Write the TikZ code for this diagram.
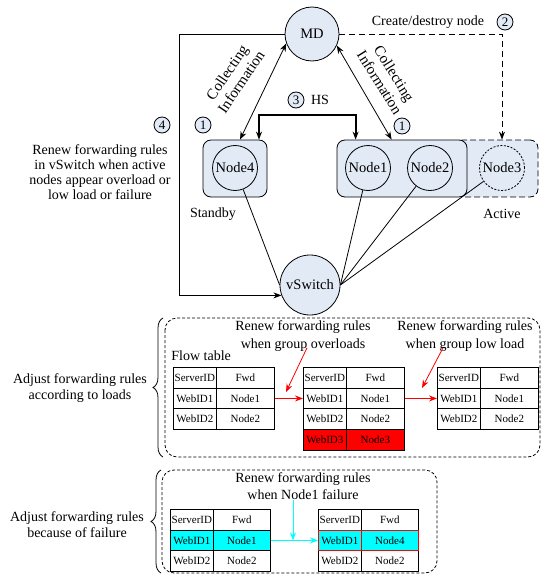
\documentclass[tikz,border=0pt]{standalone}
\usepackage{fontspec}
\setmainfont{Liberation Serif}
\usetikzlibrary{arrows.meta}
\usetikzlibrary{decorations.pathreplacing}
\definecolor{paleblue}{RGB}{226,234,246}
\definecolor{aqua}{RGB}{0,255,255}
\definecolor{hotred}{RGB}{255,0,0}
\tikzset{big/.style = {font=\fontsize{14}{15.5}\selectfont, align=center, inner sep=0}}
\tikzset{circ/.style = {circle, draw, fill=paleblue, inner sep=0, font=\fontsize{14.5}{16}\selectfont}}
\tikzset{num/.style = {circle, draw, fill=paleblue, inner sep=0, minimum size=16pt, font=\fontsize{13}{14}\selectfont}}
\tikzset{grp/.style = {draw, rounded corners=8pt, fill=paleblue, minimum width=#1, minimum height=57pt}}
\tikzset{cell/.style = {draw, anchor=north west, minimum width=#1, minimum height=20.7pt, inner sep=0, font=\fontsize{11}{12}\selectfont}}
\tikzset{frame/.style = {rounded corners=12pt, dash pattern=on 3pt off 2pt}}
\tikzset{coll/.style = {font=\fontsize{15}{17}\selectfont, align=center, inner sep=0, rotate=#1}}

\begin{document}
\begin{tikzpicture}[x=1pt, y=-1pt, line width=0.8pt, >={Stealth[length=8pt, width=6pt]}]
  \useasboundingbox (0, 0) rectangle (543, 575);
  \node (md) at (312, 34) [circ, minimum size=54pt] {MD};
  \node (act3) at (496.5, 168.5) [grp=83pt, dash pattern=on 6pt off 3pt] {};
  \node (grp4) at (235, 168.5) [grp=64pt] {};
  \node (grp12) at (402, 168.5) [grp=130pt] {};
  \node (n4) at (235, 168) [circ, minimum size=45pt] {Node4};
  \node (n1) at (368, 168) [circ, minimum size=45pt] {Node1};
  \node (n2) at (430, 168) [circ, minimum size=45pt] {Node2};
  \node (n3) at (502, 168) [circ, minimum size=45pt, dash pattern=on 2pt off 1.5pt] {Node3};
  \node (vs) at (310, 285) [circ, minimum size=60pt] {vSwitch};
  \node (stb) at (213, 214) [big] {Standby};
  \node (act) at (502, 214) [big] {Active};
  \draw [<->] ([xshift=5pt]grp4.north) -- (md.200);
  \draw [<->] (md.335) -- ([xshift=55pt]grp12.north west);
  \node (col1) at (234, 77) [coll=56] {Collecting\\Information};
  \node (col2) at (387, 78) [coll=-58] {Collecting\\Information};
  \node (c1a) at (203, 125) [num] {1};
  \node (c1b) at (402, 126) [num] {1};
  \draw [<->, line width=2pt] ([xshift=24pt]grp4.north) -- ++(0, -25) -| ([xshift=19pt]grp12.north west);
  \node (c3) at (296, 100) [num] {3};
  \node (hs) at (320, 100) [big] {HS};
  \draw [->] (md.west) -- ++(-105, 0) |- (vs.200);
  \node (c4) at (162, 125) [num] {4};
  \node (renew) at (100, 172.5) [big, font=\fontsize{14}{15}\selectfont] {Renew forwarding rules\\in vSwitch when active\\nodes appear overload or\\low load or failure};
  \draw [->, dash pattern=on 6pt off 4pt] (md.east) -| (n3 |- act3.north);
  \node (crt) at (428, 22) [big] {Create/destroy node};
  \node (c2) at (505, 22) [num] {2};
  \draw (n4) -- (vs.west);
  \draw (n1) -- (vs.east);
  \draw (n2) -- (vs.east);
  \draw (n3) -- (vs.east);

  \draw [frame] (165, 318) rectangle (540, 457);
  \draw [decorate, decoration={brace, amplitude=10pt}] (163, 457) -- (163, 318);
  \node (adj1) at (80, 388) [big] {Adjust forwarding rules\\according to loads};
  \node (flow) at (171, 356) [big, anchor=west] {Flow table};
  \foreach \r/\a/\b in {0/ServerID/Fwd, 1/WebID1/Node1, 2/WebID2/Node2} {
    \node (ta\r a) at (173, {367+20.7*\r}) [cell=43pt] {\a};
    \node (ta\r b) at (216, {367+20.7*\r}) [cell=58pt] {\b};
    \node (tb\r a) at (303, {367+20.7*\r}) [cell=43pt] {\a};
    \node (tb\r b) at (346, {367+20.7*\r}) [cell=58pt] {\b};
    \node (tc\r a) at (437, {367+20.7*\r}) [cell=43pt] {\a};
    \node (tc\r b) at (480, {367+20.7*\r}) [cell=58pt] {\b};
  }
  \node (tb3a) at (303, {367+20.7*3}) [cell=43pt, fill=hotred] {WebID3};
  \node (tb3b) at (346, {367+20.7*3}) [cell=58pt, fill=hotred] {Node3};
  \draw [->, hotred] (ta1b.east) -- (tb1a.west);
  \draw [->, hotred] (tb1b.east) -- (tc1a.west);
  \node (lab1) at (303, 336) [big, font=\fontsize{14}{18}\selectfont] {Renew forwarding rules\\when group overloads};
  \node (lab2) at (465, 336) [big, font=\fontsize{14}{18}\selectfont] {Renew forwarding rules\\when group low load};
  \coordinate (p1) at (286, 392);
  \coordinate (p2) at (422, 388);
  \draw [->, hotred] ([xshift=4pt, yshift=4pt]lab1.south) -- (p1);
  \draw [->, hotred] ([xshift=-22pt, yshift=4pt]lab2.south) -- (p2);

  \draw [frame] (162, 470) rectangle (437, 573);
  \draw [decorate, decoration={brace, amplitude=10pt}] (161, 573) -- (161, 470);
  \node (adj2) at (77, 524.5) [big] {Adjust forwarding rules\\because of failure};
  \foreach \r/\a/\b in {0/ServerID/Fwd, 2/WebID2/Node2} {
    \node (fa\r a) at (170, {509+20.7*\r}) [cell=43pt] {\a};
    \node (fa\r b) at (213, {509+20.7*\r}) [cell=57pt] {\b};
    \node (fb\r a) at (318, {509+20.7*\r}) [cell=43pt] {\a};
    \node (fb\r b) at (361, {509+20.7*\r}) [cell=57pt] {\b};
  }
  \node (fa1a) at (170, {509+20.7}) [cell=43pt, fill=aqua] {WebID1};
  \node (fa1b) at (213, {509+20.7}) [cell=57pt, fill=aqua] {Node1};
  \node (fb1a) at (318, {509+20.7}) [cell=43pt, draw=hotred, fill=aqua] {WebID1};
  \node (fb1b) at (361, {509+20.7}) [cell=57pt, draw=hotred, fill=aqua] {Node4};
  \node (flab) at (303, 486.5) [big, font=\fontsize{14}{17}\selectfont] {Renew forwarding rules\\when Node1 failure};
  \coordinate (cj) at (293, 540.4);
  \draw [->, aqua] (fa1b.east) -- (fb1a.west);
  \draw [->, aqua] (flab.south -| cj) -- (cj);
\end{tikzpicture}
\end{document}
